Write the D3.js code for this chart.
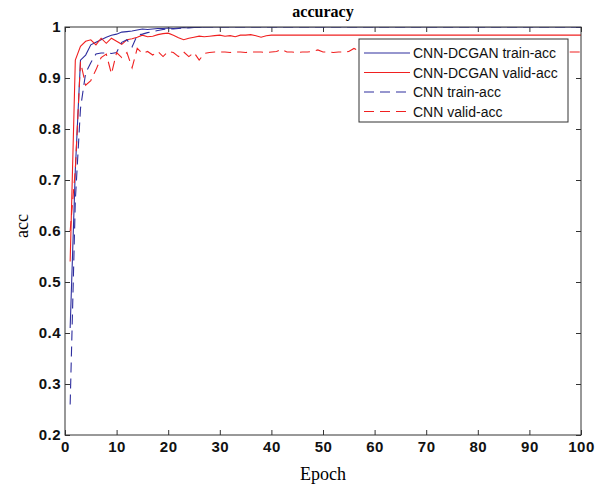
<!DOCTYPE html>
<html>
<head>
<meta charset="utf-8">
<script src="https://cdn.jsdelivr.net/npm/d3@7"></script>
<style>
  body { margin: 0; background: #fff; }
  svg { display: block; }
</style>
</head>
<body>
<script>
// accuracy per epoch
var epochs = d3.range(1, 101);

var dcganTrain = [0.41, 0.72, 0.935, 0.945, 0.965, 0.970, 0.975, 0.980, 0.984, 0.986,
  0.990, 0.991, 0.992, 0.994, 0.996, 0.995, 0.996, 0.997, 0.997, 0.998,
  0.997, 0.998, 0.999, 0.998, 0.999, 0.999, 1.0, 1.0, 1.0, 1.0];
var dcganValid = [0.54, 0.935, 0.962, 0.972, 0.975, 0.965, 0.978, 0.968, 0.978, 0.972,
  0.966, 0.975, 0.977, 0.980, 0.984, 0.981, 0.982, 0.985, 0.987, 0.988,
  0.984, 0.979, 0.975, 0.978, 0.980, 0.982, 0.981, 0.982, 0.983, 0.984,
  0.982, 0.983, 0.981, 0.984, 0.984, 0.985, 0.983, 0.980, 0.983, 0.984];
var cnnTrain = [0.26, 0.66, 0.84, 0.91, 0.93, 0.947, 0.949, 0.949, 0.948, 0.950,
  0.970, 0.975, 0.961, 0.984, 0.986, 0.989, 0.991, 0.993, 0.995, 0.997,
  0.996, 0.997, 0.998, 0.999, 0.999, 1.0, 1.0, 1.0, 1.0, 1.0];
var cnnValid = [0.60, 0.72, 0.932, 0.886, 0.895, 0.916, 0.940, 0.947, 0.908, 0.950,
  0.940, 0.950, 0.920, 0.958, 0.948, 0.952, 0.945, 0.952, 0.942, 0.952,
  0.950, 0.942, 0.951, 0.942, 0.950, 0.935, 0.948, 0.950, 0.951, 0.951,
  0.951, 0.950, 0.951, 0.951, 0.950, 0.951, 0.951, 0.951, 0.950, 0.951,
  0.952, 0.956, 0.951, 0.951, 0.950, 0.951, 0.951, 0.952, 0.955, 0.951,
  0.951, 0.950, 0.951, 0.951, 0.952, 0.958, 0.953, 0.951, 0.951, 0.951];

// last values hold flat to epoch 100
function fill(arr) {
  var last = arr[arr.length - 1];
  while (arr.length < 100) arr.push(last);
  return arr;
}
fill(dcganTrain); fill(dcganValid); fill(cnnTrain); fill(cnnValid);

var xTicks = d3.range(0, 101, 10);
var yTicks = [0.2, 0.3, 0.4, 0.5, 0.6, 0.7, 0.8, 0.9, 1];

var series = [
  {name: "CNN-DCGAN train-acc", values: dcganTrain, color: "#2e2e9e", dash: null},
  {name: "CNN-DCGAN valid-acc", values: dcganValid, color: "#f02020", dash: null},
  {name: "CNN train-acc", values: cnnTrain, color: "#2e2e9e", dash: "10,6"},
  {name: "CNN valid-acc", values: cnnValid, color: "#f02020", dash: "10,6"}
];

var W = 602, H = 487;
var margin = {top: 27, right: 21, bottom: 52, left: 65},
    width = W - margin.left - margin.right,
    height = H - margin.top - margin.bottom;

var svg = d3.select('body').append('svg')
  .attr('width', W)
  .attr('height', H);

var chart = svg.append('g')
  .attr('transform', 'translate(' + margin.left + ',' + margin.top + ')');

var x = d3.scaleLinear().domain([0, 100]).range([0, width]);
var y = d3.scaleLinear().domain([0.2, 1]).range([height, 0]);

svg.append('defs').append('clipPath').attr('id', 'clip')
  .append('rect').attr('width', width).attr('height', height);

var axisColor = '#333';
var tickFont = {family: 'Liberation Sans, Arial, sans-serif', size: '15px'};

function styleAxis(g) {
  g.select('.domain').remove();
  g.selectAll('line').attr('stroke', axisColor);
  g.selectAll('text')
    .attr('fill', '#111')
    .style('font-family', tickFont.family)
    .style('font-size', tickFont.size)
    .style('font-weight', 'bold')
    .style('letter-spacing', '0.5px');
}

chart.append('g')
  .attr('transform', 'translate(0,' + height + ')')
  .call(d3.axisBottom(x).tickValues(xTicks).tickSizeInner(-5).tickSizeOuter(0).tickPadding(6))
  .call(styleAxis);

chart.append('g')
  .call(d3.axisTop(x).tickValues(xTicks).tickSizeInner(-5).tickSizeOuter(0).tickFormat(''))
  .call(styleAxis);

chart.append('g')
  .call(d3.axisLeft(y).tickValues(yTicks).tickSizeInner(-5).tickSizeOuter(0).tickPadding(4)
    .tickFormat(function(d) { return d3.format('')(+d.toFixed(1)); }))
  .call(styleAxis);

chart.append('g')
  .attr('transform', 'translate(' + width + ',0)')
  .call(d3.axisRight(y).tickValues(yTicks).tickSizeInner(-5).tickSizeOuter(0).tickFormat(''))
  .call(styleAxis);

// lines
var line = d3.line()
  .x(function(d, i) { return x(epochs[i]); })
  .y(function(d) { return y(d); });

chart.append('g').attr('clip-path', 'url(#clip)')
  .selectAll('path')
  .data(series)
  .enter()
  .append('path')
  .attr('d', function(s) { return line(s.values); })
  .attr('fill', 'none')
  .attr('stroke', function(s) { return s.color; })
  .attr('stroke-width', 1.1)
  .attr('stroke-dasharray', function(s) { return s.dash; });

// frame
chart.append('rect')
  .attr('width', width)
  .attr('height', height)
  .attr('fill', 'none')
  .attr('stroke', axisColor)
  .attr('stroke-width', 1);

// legend
var legend = svg.append('g').attr('transform', 'translate(359,39)');
legend.append('rect')
  .attr('width', 209)
  .attr('height', 83)
  .attr('fill', '#fff')
  .attr('stroke', axisColor);

var item = legend.selectAll('.item')
  .data(series)
  .enter()
  .append('g')
  .attr('transform', function(d, i) { return 'translate(0,' + (14 + i * 19.5) + ')'; });

item.append('line')
  .attr('x1', 5).attr('x2', 51)
  .attr('stroke', function(s) { return s.color; })
  .attr('stroke-width', 1.1)
  .attr('stroke-dasharray', function(s) { return s.dash; });

item.append('text')
  .attr('x', 54)
  .attr('y', 5)
  .attr('fill', '#111')
  .style('font-family', 'Liberation Sans, Arial, sans-serif')
  .style('font-size', '14px')
  .text(function(s) { return s.name; });

// titles
svg.append('text')
  .attr('x', margin.left + width / 2)
  .attr('y', 17)
  .attr('text-anchor', 'middle')
  .style('font-family', 'Liberation Serif, Times New Roman, serif')
  .style('font-weight', 'bold')
  .style('font-size', '16px')
  .text('accuracy');

svg.append('text')
  .attr('x', margin.left + width / 2)
  .attr('y', 480)
  .attr('text-anchor', 'middle')
  .style('font-family', 'Liberation Serif, Times New Roman, serif')
  .style('font-size', '18px')
  .text('Epoch');

svg.append('text')
  .attr('transform', 'translate(28,226) rotate(-90)')
  .attr('text-anchor', 'middle')
  .style('font-family', 'Liberation Serif, Times New Roman, serif')
  .style('font-size', '18px')
  .text('acc');
</script>
</body>
</html>
